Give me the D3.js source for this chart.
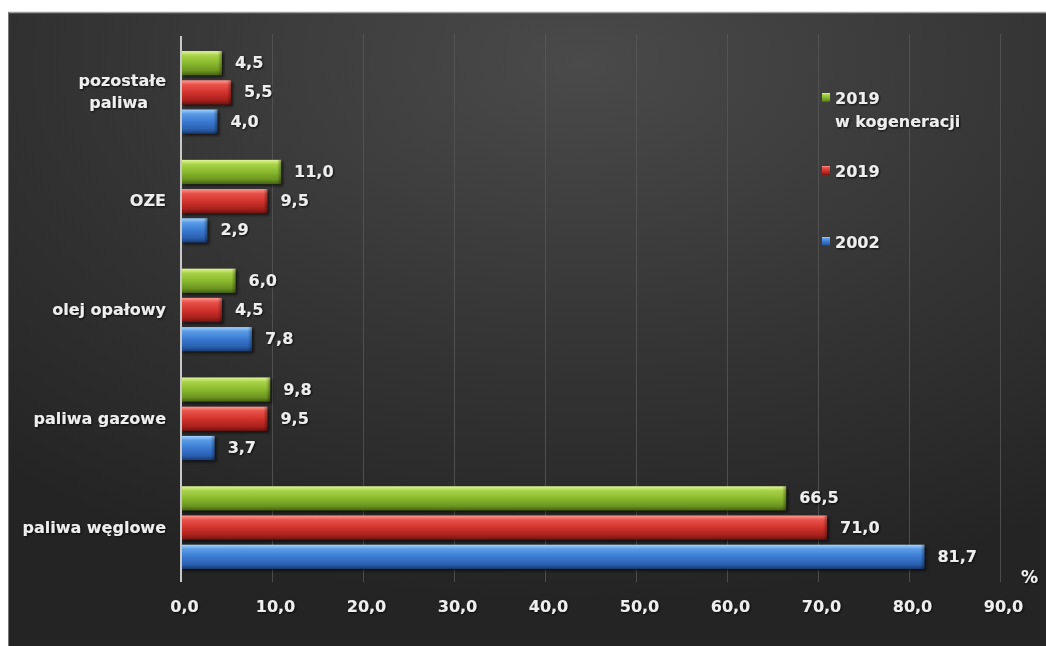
<!DOCTYPE html>
<html><head><meta charset="utf-8">
<script src="https://cdn.jsdelivr.net/npm/d3@7/dist/d3.min.js"></script>
<style>
html,body{margin:0;padding:0;background:#fff;}
svg{display:block;}
text{font-family:"DejaVu Sans",Verdana,sans-serif;font-weight:bold;fill:#eeeeee;}
</style></head>
<body>
<svg id="chart" width="1046" height="646"></svg>
<script>
const categories = ["pozostałe paliwa", "OZE", "olej opałowy", "paliwa gazowe", "paliwa węglowe"];
const seriesNames = ["2019 w kogeneracji", "2019", "2002"];
const valuesKogeneracja2019 = [4.5, 11.0, 6.0, 9.8, 66.5];
const values2019 = [5.5, 9.5, 4.5, 9.5, 71.0];
const values2002 = [4.0, 2.9, 7.8, 3.7, 81.7];
const xTicks = [0, 10, 20, 30, 40, 50, 60, 70, 80, 90];
const seriesValues = [valuesKogeneracja2019, values2019, values2002];
const seriesColors = [
  ["#e2f59a", "#a9d34a", "#8ab92d", "#6b9420", "#44610f"],
  ["#ff9a90", "#e8524a", "#d2332d", "#a8211c", "#6e1210"],
  ["#a6d2ff", "#5a9be6", "#3a7ad2", "#2a5fae", "#173a72"]
];

const svg = d3.select("#chart");
const W = 1046, H = 646;
const defs = svg.append("defs");

// background
const bg = defs.append("radialGradient").attr("id", "bg")
  .attr("cx", "0.55").attr("cy", "0.08").attr("r", "0.85");
bg.append("stop").attr("offset", "0%").attr("stop-color", "#4a4a4a");
bg.append("stop").attr("offset", "55%").attr("stop-color", "#343434");
bg.append("stop").attr("offset", "100%").attr("stop-color", "#242424");

svg.append("rect").attr("x", 8).attr("y", 12).attr("width", W - 8).attr("height", H - 12)
  .attr("fill", "url(#bg)");
svg.append("line").attr("x1", 8).attr("x2", W).attr("y1", 12.5).attr("y2", 12.5)
  .attr("stroke", "#9a9a9a").attr("stroke-width", 1.5);
svg.append("line").attr("x1", 8.5).attr("x2", 8.5).attr("y1", 12).attr("y2", H)
  .attr("stroke", "#777").attr("stroke-width", 1);

// gradients for bars
seriesColors.forEach((c, i) => {
  const g = defs.append("linearGradient").attr("id", "bar" + i)
    .attr("x1", 0).attr("y1", 0).attr("x2", 0).attr("y2", 1);
  [[0, c[0]], [0.18, c[1]], [0.5, c[2]], [0.82, c[3]], [1, c[4]]].forEach(s =>
    g.append("stop").attr("offset", s[0]).attr("stop-color", s[1]));
  const e = defs.append("linearGradient").attr("id", "end" + i)
    .attr("x1", 0).attr("y1", 0).attr("x2", 1).attr("y2", 0);
  e.append("stop").attr("offset", 0).attr("stop-color", "#000").attr("stop-opacity", 0);
  e.append("stop").attr("offset", 1).attr("stop-color", "#000").attr("stop-opacity", 0.35);
});
const blur = defs.append("filter").attr("id", "shadow").attr("x", "-10%").attr("y", "-30%")
  .attr("width", "130%").attr("height", "180%");
blur.append("feGaussianBlur").attr("stdDeviation", 1.6);
const ts = defs.append("filter").attr("id", "tshadow").attr("x", "-20%").attr("y", "-30%")
  .attr("width", "150%").attr("height", "170%");
ts.append("feDropShadow").attr("dx", 1).attr("dy", 1).attr("stdDeviation", 0.8)
  .attr("flood-color", "#000").attr("flood-opacity", 0.8);

// scales
const x = d3.scaleLinear().domain([0, 90]).range([181, 1000]);
const y0 = d3.scaleBand().domain(categories).range([38, 582]).paddingInner(0.24).paddingOuter(0.12);
const y1 = d3.scaleBand().domain(seriesNames).range([0, y0.bandwidth()]).paddingInner(0.17);

// gridlines
svg.append("g").selectAll("line").data(xTicks.slice(1)).join("line")
  .attr("x1", d => x(d) + 0.5).attr("x2", d => x(d) + 0.5)
  .attr("y1", 34).attr("y2", 582)
  .attr("stroke", "#575757").attr("stroke-width", 1).attr("opacity", 0.8);

// x axis tick labels
const xAxis = d3.axisBottom(x).tickValues(xTicks).tickSize(0)
  .tickFormat(d => d3.format(".1f")(d).replace(".", ","));
const xg = svg.append("g").attr("transform", "translate(3,598)").call(xAxis);
xg.select(".domain").remove();
xg.selectAll("text").attr("font-size", 16).attr("fill", "#eeeeee")
  .attr("font-family", "DejaVu Sans").attr("font-weight", "bold").attr("filter", "url(#tshadow)");

// bars
const groups = svg.append("g").selectAll("g").data(categories).join("g")
  .attr("transform", d => `translate(0,${y0(d)})`);
seriesNames.forEach((s, si) => {
  groups.append("rect")
    .attr("x", x(0) + 2).attr("y", (d) => y1(s) + 2)
    .attr("width", (d, i) => x(seriesValues[si][i]) - x(0))
    .attr("height", y1.bandwidth())
    .attr("fill", "#000").attr("opacity", 0.6).attr("filter", "url(#shadow)");
  groups.append("rect")
    .attr("x", x(0)).attr("y", y1(s))
    .attr("width", (d, i) => x(seriesValues[si][i]) - x(0))
    .attr("height", y1.bandwidth())
    .attr("fill", `url(#bar${si})`);
  groups.append("rect")
    .attr("x", (d, i) => x(seriesValues[si][i]) - 4).attr("y", y1(s))
    .attr("width", 4).attr("height", y1.bandwidth())
    .attr("fill", `url(#end${si})`);
  groups.append("text")
    .attr("x", (d, i) => x(seriesValues[si][i]) + 13)
    .attr("y", y1(s) + y1.bandwidth() / 2 + 5)
    .attr("font-size", 16)
    .attr("filter", "url(#tshadow)")
    .text((d, i) => d3.format(".1f")(seriesValues[si][i]).replace(".", ","));
});

// axis line
svg.append("line").attr("x1", x(0)).attr("x2", x(0)).attr("y1", 36).attr("y2", 582)
  .attr("stroke", "#c8c8c8").attr("stroke-width", 2);

// category labels
svg.append("g").selectAll("text").data(categories).join("text")
  .attr("text-anchor", "end").attr("x", 166).attr("font-size", 16)
  .attr("filter", "url(#tshadow)")
  .each(function (d) {
    const t = d3.select(this);
    const cy = y0(d) + y0.bandwidth() / 2;
    const lines = d === "pozostałe paliwa" ? ["pozostałe", "paliwa"] : [d];
    lines.forEach((ln, k) => {
      t.append("tspan").attr("x", 166 - (k === 1 ? 18 : 0))
        .attr("y", cy + 5 + (k - (lines.length - 1) / 2) * 22).text(ln);
    });
  });

// legend
const legendY = [97, 170, 241];
seriesNames.forEach((s, si) => {
  const lg = svg.append("g").attr("transform", `translate(822,${legendY[si]})`);
  lg.append("rect").attr("x", 0).attr("y", -4).attr("width", 8).attr("height", 9)
    .attr("fill", `url(#bar${si})`);
  const lines = si === 0 ? ["2019", "w kogeneracji"] : [s];
  const t = lg.append("text").attr("font-size", 16).attr("filter", "url(#tshadow)");
  lines.forEach((ln, k) => t.append("tspan").attr("x", 13).attr("y", 7 + k * 23).text(ln));
});

// unit
svg.append("text").attr("x", 1021).attr("y", 583).attr("font-size", 17)
  .attr("filter", "url(#tshadow)").text("%");
</script>
</body></html>
